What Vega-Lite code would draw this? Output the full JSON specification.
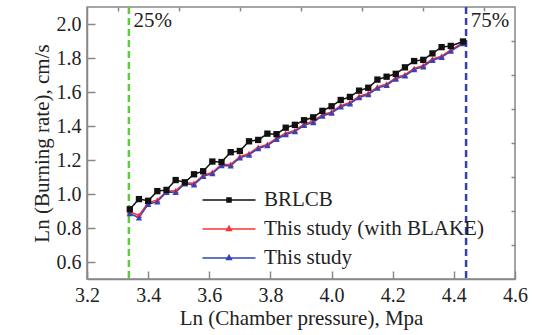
{
  "$schema": "https://vega.github.io/schema/vega-lite/v6.json",
  "width": 428,
  "height": 272,
  "autosize": "none",
  "padding": {"left": 87, "top": 7, "right": 23, "bottom": 56},
  "background": "white",
  "config": {
    "view": {"stroke": "#888888", "strokeWidth": 1.5},
    "font": "Liberation Serif",
    "axis": {"grid": false, "domainColor": "#888888", "domainWidth": 1.5, "tickColor": "#888888", "tickWidth": 1.5, "labelFont": "Liberation Serif", "titleFont": "Liberation Serif", "labelColor": "#222222", "titleColor": "#222222", "titleFontWeight": "normal", "labelFontSize": 20, "titleFontSize": 21}
  },
  "datasets": {
    "series": [
      {"x": 3.34, "BRLCB": 0.91, "Red": 0.895, "Blue": 0.885},
      {"x": 3.37, "BRLCB": 0.97, "Red": 0.875, "Blue": 0.86},
      {"x": 3.40, "BRLCB": 0.96, "Red": 0.948, "Blue": 0.94},
      {"x": 3.43, "BRLCB": 1.017, "Red": 0.965, "Blue": 0.955},
      {"x": 3.46, "BRLCB": 1.024, "Red": 1.015, "Blue": 1.01},
      {"x": 3.49, "BRLCB": 1.082, "Red": 1.02, "Blue": 1.01},
      {"x": 3.52, "BRLCB": 1.069, "Red": 1.066, "Blue": 1.06},
      {"x": 3.55, "BRLCB": 1.116, "Red": 1.063, "Blue": 1.055},
      {"x": 3.58, "BRLCB": 1.134, "Red": 1.11, "Blue": 1.104},
      {"x": 3.61, "BRLCB": 1.191, "Red": 1.128, "Blue": 1.12},
      {"x": 3.64, "BRLCB": 1.188, "Red": 1.174, "Blue": 1.168},
      {"x": 3.67, "BRLCB": 1.246, "Red": 1.175, "Blue": 1.166},
      {"x": 3.70, "BRLCB": 1.253, "Red": 1.22, "Blue": 1.213},
      {"x": 3.73, "BRLCB": 1.31, "Red": 1.238, "Blue": 1.23},
      {"x": 3.76, "BRLCB": 1.318, "Red": 1.275, "Blue": 1.268},
      {"x": 3.79, "BRLCB": 1.355, "Red": 1.292, "Blue": 1.285},
      {"x": 3.82, "BRLCB": 1.352, "Red": 1.329, "Blue": 1.322},
      {"x": 3.85, "BRLCB": 1.39, "Red": 1.357, "Blue": 1.35},
      {"x": 3.88, "BRLCB": 1.407, "Red": 1.374, "Blue": 1.367},
      {"x": 3.91, "BRLCB": 1.434, "Red": 1.411, "Blue": 1.404},
      {"x": 3.94, "BRLCB": 1.451, "Red": 1.428, "Blue": 1.421},
      {"x": 3.97, "BRLCB": 1.489, "Red": 1.466, "Blue": 1.459},
      {"x": 4.00, "BRLCB": 1.516, "Red": 1.483, "Blue": 1.476},
      {"x": 4.03, "BRLCB": 1.553, "Red": 1.52, "Blue": 1.513},
      {"x": 4.06, "BRLCB": 1.571, "Red": 1.538, "Blue": 1.531},
      {"x": 4.09, "BRLCB": 1.608, "Red": 1.575, "Blue": 1.568},
      {"x": 4.12, "BRLCB": 1.625, "Red": 1.592, "Blue": 1.585},
      {"x": 4.15, "BRLCB": 1.673, "Red": 1.63, "Blue": 1.623},
      {"x": 4.18, "BRLCB": 1.69, "Red": 1.647, "Blue": 1.64},
      {"x": 4.21, "BRLCB": 1.707, "Red": 1.684, "Blue": 1.677},
      {"x": 4.24, "BRLCB": 1.745, "Red": 1.702, "Blue": 1.695},
      {"x": 4.27, "BRLCB": 1.782, "Red": 1.739, "Blue": 1.732},
      {"x": 4.30, "BRLCB": 1.789, "Red": 1.756, "Blue": 1.749},
      {"x": 4.33, "BRLCB": 1.827, "Red": 1.794, "Blue": 1.787},
      {"x": 4.36, "BRLCB": 1.864, "Red": 1.811, "Blue": 1.804},
      {"x": 4.39, "BRLCB": 1.871, "Red": 1.848, "Blue": 1.841},
      {"x": 4.43, "BRLCB": 1.897, "Red": 1.89, "Blue": 1.885}
    ],
    "marks": [
      {"x": 3.337, "tx": 3.352, "ty": 2.02, "label": "25%"},
      {"x": 4.44, "tx": 4.455, "ty": 2.02, "label": "75%"}
    ]
  },
  "resolve": {"axis": {"x": "independent", "y": "independent"}},
  "layer": [
    {
      "data": {"name": "marks"},
      "transform": [{"filter": "datum.label === '25%'"}],
      "mark": {"type": "rule", "color": "#5ccc3c", "strokeWidth": 2.5, "strokeDash": [7, 4]},
      "encoding": {"x": {"field": "x", "type": "quantitative", "scale": {"domain": [3.2, 4.6], "nice": false, "zero": false}, "axis": null}}
    },
    {
      "data": {"name": "marks"},
      "transform": [{"filter": "datum.label === '75%'"}],
      "mark": {"type": "rule", "color": "#3340b8", "strokeWidth": 2.5, "strokeDash": [7, 4]},
      "encoding": {"x": {"field": "x", "type": "quantitative", "axis": null}}
    },
    {
      "data": {"name": "series"},
      "transform": [
        {"fold": ["Red", "Blue", "BRLCB"], "as": ["key", "y"]},
        {"calculate": "datum.key === 'BRLCB' ? 'BRLCB' : (datum.key === 'Red' ? 'This study (with BLAKE)' : 'This study')", "as": "series"}
      ],
      "mark": {"type": "line", "strokeWidth": 1.5},
      "encoding": {
        "x": {"field": "x", "type": "quantitative", "title": "Ln (Chamber pressure), Mpa",
          "axis": {"values": [3.2, 3.4, 3.6, 3.8, 4.0, 4.2, 4.4, 4.6], "format": ".1f", "tickSize": -8, "labelPadding": 14, "titlePadding": 2, "labelFlush": false, "labelOverlap": false, "labelFont": "Liberation Serif", "titleFont": "Liberation Serif"}},
        "y": {"field": "y", "type": "quantitative", "title": "Ln (Burning rate), cm/s", "scale": {"domain": [0.5, 2.1], "nice": false, "zero": false},
          "axis": {"values": [0.6, 0.8, 1.0, 1.2, 1.4, 1.6, 1.8, 2.0], "format": ".1f", "tickSize": -8, "labelPadding": 14, "titlePadding": 4, "labelFlush": false, "labelOverlap": false, "labelFont": "Liberation Serif", "titleFont": "Liberation Serif"}},
        "color": {"field": "series", "type": "nominal",
          "scale": {"domain": ["BRLCB", "This study (with BLAKE)", "This study"], "range": ["#111111", "#ff3030", "#3344bb"]},
          "legend": {"title": null, "orient": "none", "legendX": 131, "legendY": 182, "labelFont": "Liberation Serif", "labelFontSize": 21, "labelColor": "#222222", "labelLimit": 0, "symbolSize": 400, "symbolStrokeWidth": 1.5, "rowPadding": 8, "labelOffset": 24,
            "encode": {"symbols": {"update": {
              "shape": {"signal": "datum.value === 'BRLCB' ? 'M-2.65,0H2.65M-0.2,-0.2H0.2V0.2H-0.2Z' : 'M-2.65,0H2.65M0,-0.26L0.23,0.15H-0.23Z'"},
              "fill": {"signal": "scale('color', datum.value)"},
              "stroke": {"signal": "scale('color', datum.value)"}
            }}}}},
        "order": {"field": "key"}
      }
    },
    {
      "data": {"name": "series"},
      "transform": [
        {"fold": ["Red", "Blue", "BRLCB"], "as": ["key", "y"]},
        {"calculate": "datum.key === 'BRLCB' ? 'BRLCB' : (datum.key === 'Red' ? 'This study (with BLAKE)' : 'This study')", "as": "series"}
      ],
      "mark": {"type": "point", "filled": true, "opacity": 1, "size": 40},
      "encoding": {
        "x": {"field": "x", "type": "quantitative", "axis": null},
        "y": {"field": "y", "type": "quantitative", "axis": null},
        "color": {"field": "series", "type": "nominal", "legend": null},
        "shape": {"field": "key", "type": "nominal", "scale": {"domain": ["BRLCB", "Red", "Blue"], "range": ["square", "triangle-up", "triangle-up"]}, "legend": null}
      }
    },
    {
      "data": {"name": "marks"},
      "mark": {"type": "text", "align": "left", "baseline": "middle", "font": "Liberation Serif", "fontSize": 21, "color": "#222222"},
      "encoding": {
        "x": {"field": "tx", "type": "quantitative", "axis": {"values": [3.3, 3.5, 3.7, 3.9, 4.1, 4.3, 4.5], "labels": false, "domain": false, "tickSize": -4, "title": null}},
        "y": {"field": "ty", "type": "quantitative", "axis": {"values": [0.7, 0.9, 1.1, 1.3, 1.5, 1.7, 1.9], "labels": false, "domain": false, "tickSize": -4, "title": null}},
        "text": {"field": "label"}
      }
    }
  ]
}
